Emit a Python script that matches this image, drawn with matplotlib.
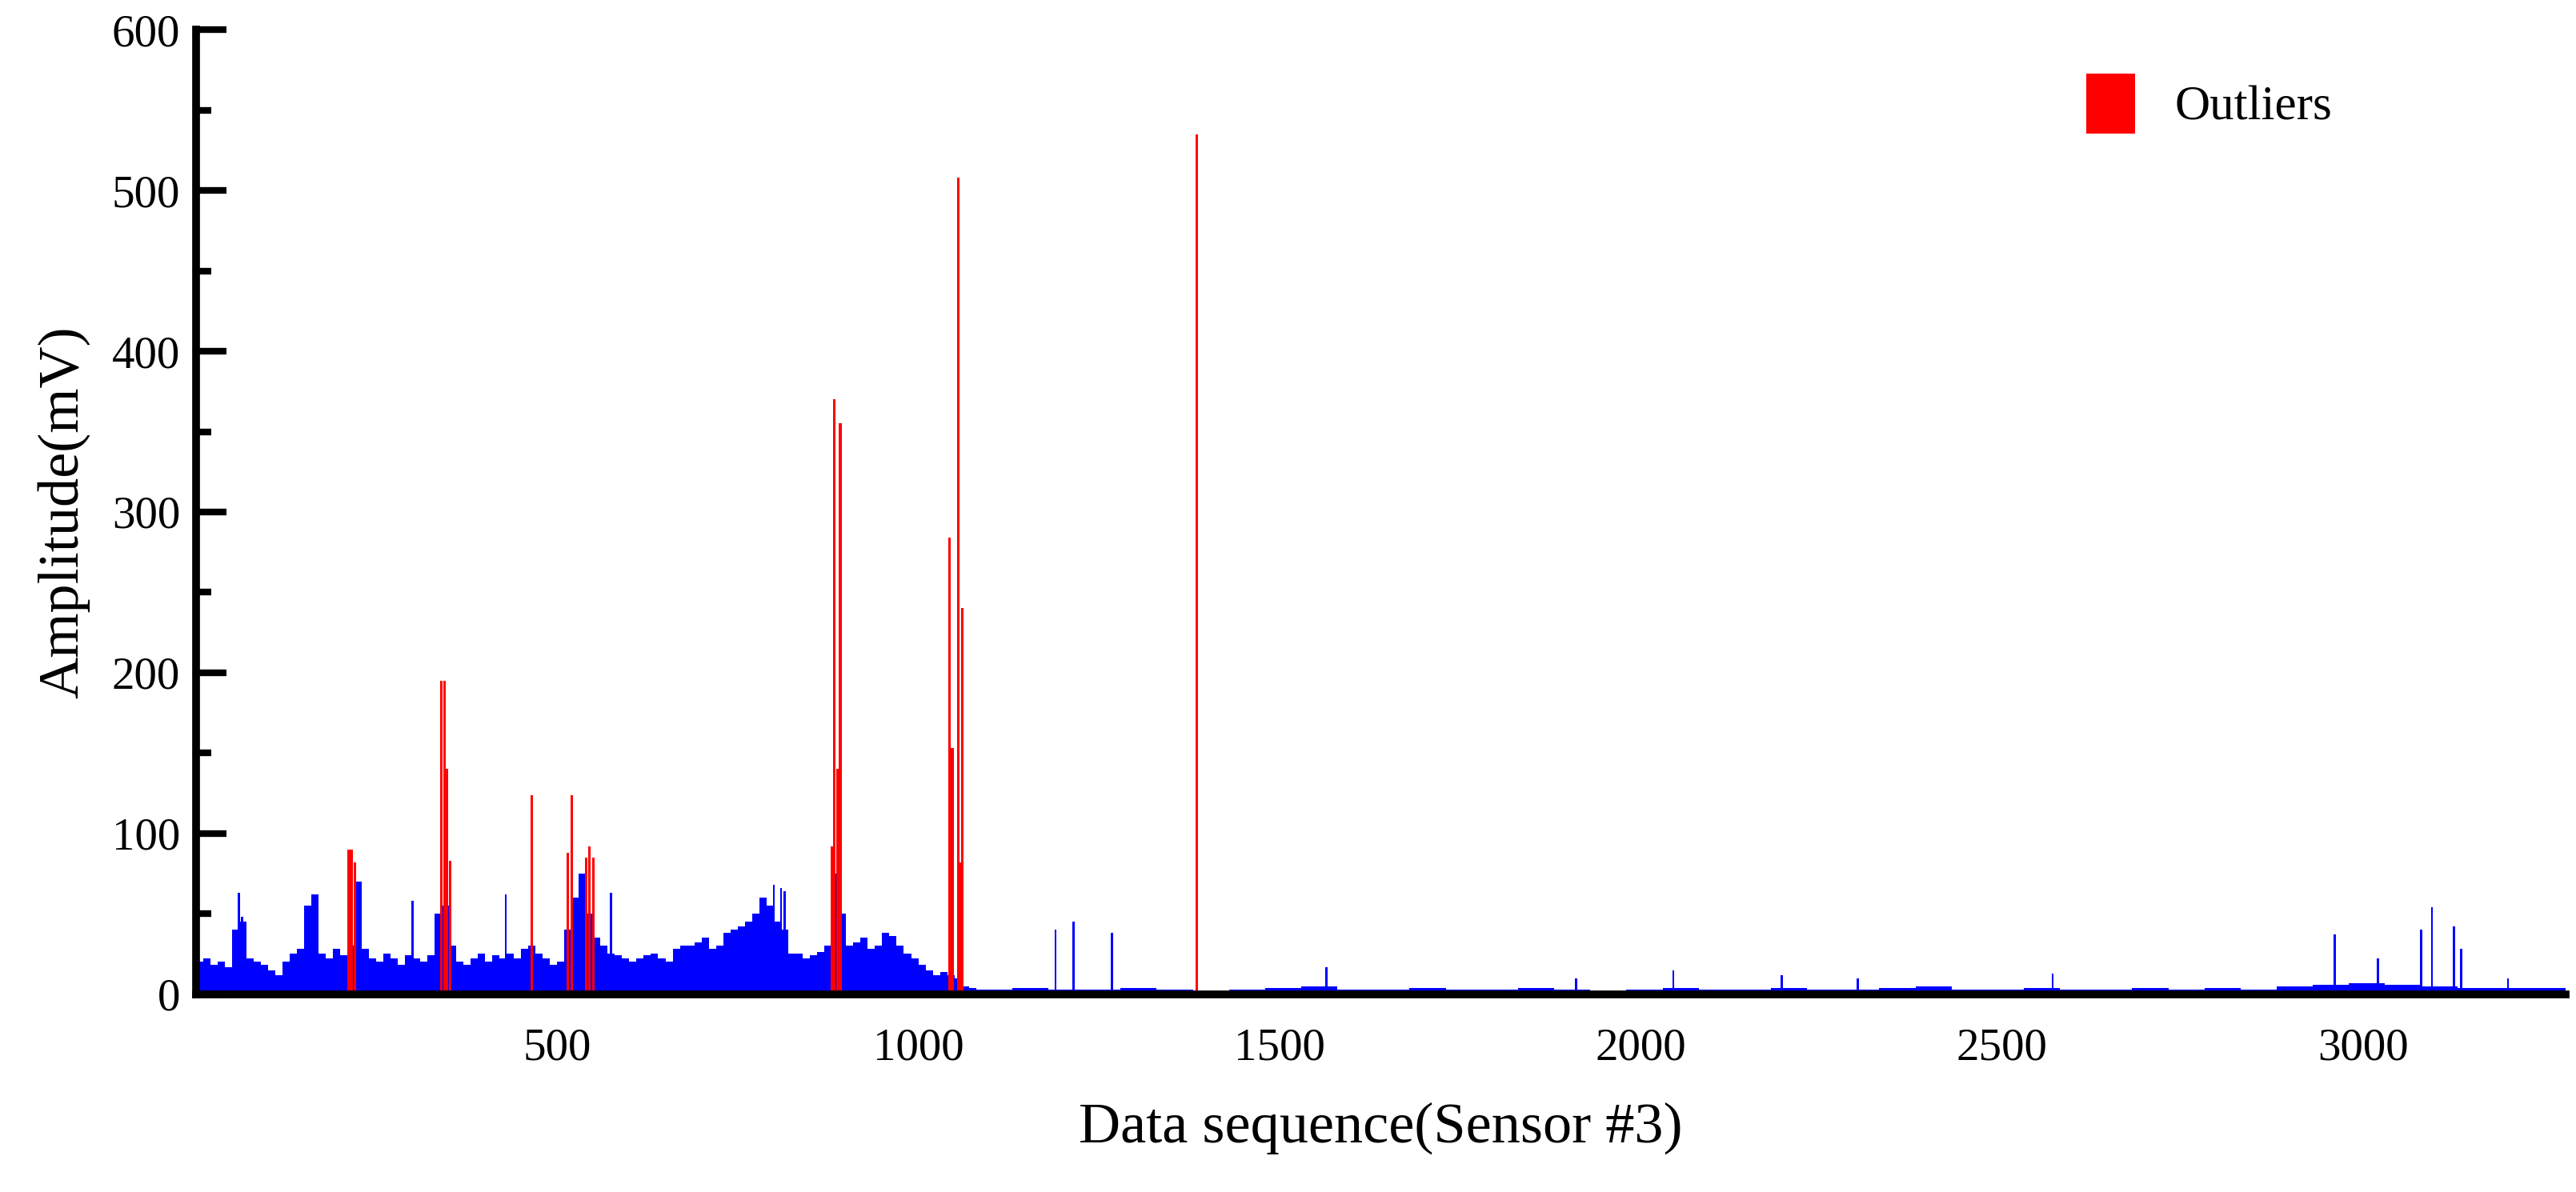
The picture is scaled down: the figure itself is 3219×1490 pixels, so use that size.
import matplotlib
matplotlib.use("Agg")
import matplotlib.pyplot as plt
import numpy as np
from matplotlib.ticker import MultipleLocator

# Blue background levels, bins of 10 samples from 0 to 1080
active_bins = [20,22,18,20,17, 40,45, 22,20,18,15,12, 20,25,28, 55,62, 25,22,28,24,
               30,70, 28,22,20,25,22,18,24,22,20,24, 50,55,30, 20,18,22,25,20,24,22,
               25,22,28,30,25,22,18,20, 40,60,75,50,35, 30,25,24,22,
               20,22,24,25,22,20,28,30, 30,32,35,28,30,38,40,42,
               45,50,60,55,45,40,25, 25,22,24,26,30, 75,50,
               30,32,35,28,30,38,36,30,25,22,18,15,12,14, 12,10,5,4]
# Quiet region levels, bins of 50 samples from 1080 to 3280
quiet_bins = [3,4,3,3,4,3,2,3,4,5,3,3,4,3,3,4,3,2,3,4,3,3,4,3,3,4,5,3,3,4,3,3,4,3,4,3,
              5,6,7,6,5,4,4,4]
# Individual blue spikes (index, amplitude)
blue_idx = [60,64,300,429,575,800,810,815,1190,1215,1268,1565,1910,2045,2195,2300,2570,2960,3020,3080,3095,3125,3135,3200]
blue_val = [63,48,58,62,63,68,66,64,40,45,38,17,10,15,12,10,13,37,22,40,54,42,28,10]
# Outliers (index, amplitude)
red_idx = [212,216,220,340,344,348,352,465,515,520,540,545,550,880,884,888,892,1043,1047,1055,1058,1061,1385]
red_val = [90,90,82,195,195,140,83,124,88,124,85,92,85,92,370,140,355,284,153,508,82,240,535]

fig = plt.figure(figsize=(32.19, 14.90), dpi=100)
ax = fig.add_axes([0.076, 0.166, 0.92, 0.809])
serif = "Liberation Serif"

ax.bar(np.arange(len(active_bins))*10, active_bins, width=10, align="edge", color="blue", linewidth=0)
ax.bar(1080 + np.arange(len(quiet_bins))*50, quiet_bins, width=50, align="edge", color="blue", linewidth=0)
ax.bar(blue_idx, blue_val, width=3, color="blue", linewidth=0)
ax.bar(red_idx, red_val, width=3.5, color="red", linewidth=0, label="Outliers")

ax.set_xlim(0, 3280)
ax.set_ylim(0, 600)
for s in ["top", "right"]:
    ax.spines[s].set_visible(False)
for s in ["left", "bottom"]:
    ax.spines[s].set_linewidth(7)
ax.yaxis.set_major_locator(MultipleLocator(100))
ax.yaxis.set_minor_locator(MultipleLocator(50))
ax.set_xticks([500,1000,1500,2000,2500,3000])
ax.tick_params(axis="y", which="major", direction="in", length=27, width=6, labelsize=41, pad=14)
ax.tick_params(axis="y", which="minor", direction="in", length=14, width=6)
ax.tick_params(axis="x", which="major", length=0, labelsize=41, pad=30)
for lab in ax.get_xticklabels() + ax.get_yticklabels():
    lab.set_fontfamily(serif)
ax.set_xlabel("Data sequence(Sensor #3)", fontsize=52, family=serif, labelpad=30)
ax.set_ylabel("Amplitude(mV)", fontsize=52, family=serif, labelpad=20)
leg = ax.legend(loc="upper right", bbox_to_anchor=(0.92, 1.0), frameon=False,
                prop={"family": serif, "size": 44}, handlelength=1.0, handleheight=1.5)
fig.savefig("out.png", dpi=100)
